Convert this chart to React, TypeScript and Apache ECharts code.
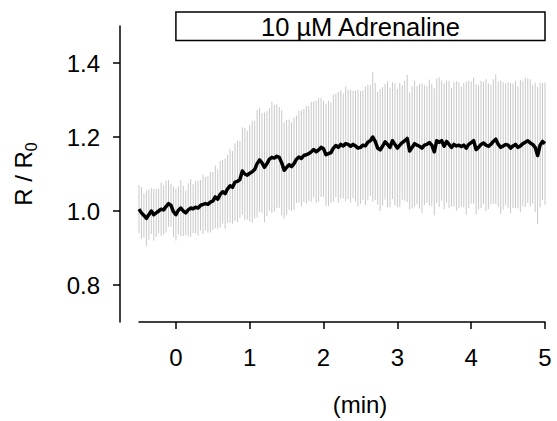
import React, { useEffect, useRef } from "react";
import * as echarts from "echarts";

// sampling: one frame every 2 s, starting 0.5 min before adrenaline
const startMin = -0.5;
const stepMin = 2 / 60;

// mean R / R0 per frame
const meanRatio = [
  1.005, 0.995, 0.988, 0.98, 0.99, 1.0, 0.99, 0.995, 1.0, 1.005,
  1.003, 1.012, 1.02, 1.015, 0.998, 0.99, 1.002, 1.008, 1.0, 0.995,
  1.003, 1.008, 1.006, 1.01, 1.008, 1.015, 1.018, 1.02, 1.018, 1.024,
  1.027, 1.038, 1.032, 1.045, 1.052, 1.047, 1.06, 1.068, 1.064, 1.078,
  1.08, 1.085, 1.108, 1.1, 1.097, 1.102, 1.106, 1.112, 1.128, 1.138,
  1.13, 1.118, 1.128, 1.14, 1.145, 1.143, 1.148, 1.145, 1.13, 1.11,
  1.118, 1.125, 1.12, 1.128, 1.14, 1.146, 1.142, 1.15, 1.152, 1.155,
  1.16, 1.166, 1.16, 1.165, 1.172, 1.168, 1.152, 1.155, 1.158, 1.17,
  1.177, 1.172, 1.18, 1.176, 1.182, 1.18, 1.175, 1.18, 1.176, 1.17,
  1.172, 1.178, 1.176, 1.186, 1.19, 1.2, 1.188, 1.17, 1.165, 1.175,
  1.187, 1.18, 1.172, 1.19, 1.18, 1.17, 1.178, 1.185, 1.19, 1.196,
  1.162, 1.172, 1.182, 1.178, 1.175, 1.17, 1.178, 1.18, 1.185, 1.178,
  1.16, 1.19, 1.186, 1.19, 1.175, 1.188, 1.18, 1.172, 1.18, 1.176,
  1.178, 1.174, 1.178, 1.17, 1.18, 1.185, 1.19, 1.166, 1.172, 1.18,
  1.184, 1.178, 1.175, 1.18, 1.188, 1.194, 1.18, 1.172, 1.176, 1.18,
  1.178, 1.17, 1.176, 1.18, 1.172, 1.176, 1.182, 1.186, 1.19, 1.184,
  1.18, 1.172, 1.15, 1.178, 1.188, 1.182,
];

// standard deviation per frame (error bar half-length)
const sdRatio = [
  0.065, 0.07, 0.06, 0.075, 0.068, 0.062, 0.07, 0.065, 0.06, 0.072, 0.066, 0.07, 0.063, 0.058, 0.068,
  0.07, 0.064, 0.075, 0.068, 0.06, 0.072, 0.078, 0.066, 0.07, 0.074, 0.068, 0.08, 0.072, 0.076, 0.082,
  0.078, 0.085, 0.08, 0.09, 0.086, 0.095, 0.092, 0.1, 0.098, 0.105, 0.11, 0.104, 0.118, 0.125, 0.12,
  0.13, 0.138, 0.132, 0.145, 0.14, 0.135, 0.148, 0.142, 0.138, 0.15, 0.144, 0.14, 0.136, 0.142, 0.13,
  0.128, 0.122, 0.12, 0.125, 0.118, 0.124, 0.13, 0.126, 0.132, 0.128, 0.135, 0.13, 0.138, 0.14, 0.134,
  0.13, 0.138, 0.142, 0.136, 0.145, 0.14, 0.15, 0.146, 0.142, 0.155, 0.148, 0.152, 0.145, 0.15, 0.158,
  0.152, 0.148, 0.16, 0.155, 0.15, 0.175, 0.158, 0.152, 0.165, 0.16, 0.156, 0.17, 0.162, 0.158, 0.165,
  0.16, 0.168, 0.155, 0.162, 0.172, 0.158, 0.165, 0.17, 0.16, 0.168, 0.175, 0.162, 0.158, 0.17, 0.165,
  0.172, 0.168, 0.175, 0.162, 0.17, 0.165, 0.172, 0.16, 0.168, 0.175, 0.17, 0.162, 0.168, 0.18, 0.172,
  0.165, 0.17, 0.176, 0.168, 0.172, 0.165, 0.178, 0.17, 0.162, 0.168, 0.175, 0.17, 0.18, 0.172, 0.165,
  0.17, 0.176, 0.168, 0.172, 0.165, 0.178, 0.17, 0.175, 0.168, 0.172, 0.16, 0.175, 0.185, 0.168, 0.158, 0.165,
];

const xTicks = [0, 1, 2, 3, 4, 5];
const yTicks = [0.8, 1.0, 1.2, 1.4];
const xRange = [-0.5, 5];
const yRange = [0.7, 1.5];
const stimulusLabel = "10 µM Adrenaline";
const stimulusStart = 0;
const stimulusEnd = 5;
const xTitle = "(min)";

const FONT = "Liberation Sans, Arial, Helvetica, sans-serif";

export default function App() {
  const ref = useRef<HTMLDivElement>(null);
  useEffect(() => {
    const chart = echarts.init(ref.current!, null, { renderer: "svg" });
    const times = meanRatio.map((_, i) => startMin + i * stepMin);
    const lineData = meanRatio.map((m, i) => [times[i], m]);
    const barData = meanRatio.map((m, i) => [times[i], m - sdRatio[i], m + sdRatio[i]]);

    chart.setOption({
      animation: false,
      grid: { left: 139, right: 12, top: 26, bottom: 99, containLabel: false },
      xAxis: {
        type: "value",
        min: xRange[0],
        max: xRange[1],
        splitLine: { show: false },
        axisLine: { show: true, onZero: false, lineStyle: { color: "#000", width: 1.5 } },
        axisTick: { show: true, length: 7, customValues: xTicks, lineStyle: { color: "#000", width: 1.5 } },
        axisLabel: {
          customValues: xTicks,
          fontSize: 24,
          fontFamily: FONT,
          color: "#000",
          margin: 23,
          formatter: (v: number) => String(Math.round(v)),
        },
      },
      yAxis: {
        type: "value",
        min: yRange[0],
        max: yRange[1],
        offset: 19,
        splitLine: { show: false },
        axisLine: { show: true, onZero: false, lineStyle: { color: "#000", width: 1.5 } },
        axisTick: { show: true, length: 7, customValues: yTicks, lineStyle: { color: "#000", width: 1.5 } },
        axisLabel: {
          customValues: yTicks,
          fontSize: 24,
          fontFamily: FONT,
          color: "#000",
          margin: 20,
          formatter: (v: number) => v.toFixed(1),
        },
        name: "{m|R / R}{s|0}",
        nameLocation: "middle",
        nameRotate: 90,
        nameGap: 81,
        nameTextStyle: {
          rich: {
            m: { fontSize: 24, fontFamily: FONT, color: "#000", lineHeight: 24, padding: [0, 0, 4, 0], verticalAlign: "bottom" },
            s: { fontSize: 16, fontFamily: FONT, color: "#000", lineHeight: 16, verticalAlign: "bottom" },
          },
        },
      },
      graphic: [
        {
          type: "text",
          x: 360,
          y: 404,
          style: {
            text: xTitle,
            fontSize: 24,
            fontFamily: FONT,
            fill: "#000",
            align: "center",
            verticalAlign: "middle",
          },
        },
      ],
      series: [
        {
          type: "custom",
          name: "sd",
          data: barData,
          encode: { x: 0, y: [1, 2] },
          z: 1,
          renderItem: (_p: any, api: any) => {
            const x = api.value(0);
            const a = api.coord([x, api.value(1)]);
            const b = api.coord([x, api.value(2)]);
            return {
              type: "line",
              shape: { x1: a[0], y1: a[1], x2: b[0], y2: b[1] },
              style: { stroke: "#c8c8c8", lineWidth: 1 },
            };
          },
        },
        {
          type: "line",
          name: "mean",
          data: lineData,
          symbol: "none",
          z: 3,
          lineStyle: { color: "#000", width: 3.5, join: "round" },
        },
        {
          type: "custom",
          name: "stimulus",
          data: [[stimulusStart, stimulusEnd, yRange[1]]],
          encode: { x: [0, 1], y: 2 },
          z: 5,
          renderItem: (_p: any, api: any) => {
            const a = api.coord([api.value(0), api.value(2)]);
            const b = api.coord([api.value(1), api.value(2)]);
            const top = a[1] - 14;
            const h = 28.5;
            return {
              type: "group",
              children: [
                {
                  type: "rect",
                  shape: { x: a[0], y: top, width: b[0] - a[0], height: h },
                  style: { fill: "#fff", stroke: "#000", lineWidth: 1.5 },
                },
                {
                  type: "text",
                  style: {
                    text: stimulusLabel,
                    x: (a[0] + b[0]) / 2,
                    y: top + h / 2 + 1,
                    align: "center",
                    verticalAlign: "middle",
                    fontSize: 25.5,
                    fontFamily: FONT,
                    fill: "#000",
                  },
                },
              ],
            };
          },
        },
      ],
    });
    return () => chart.dispose();
  }, []);
  return (
    <div
      ref={ref}
      style={{ position: "fixed", left: 0, top: 0, width: 557, height: 421, background: "#fff" }}
    />
  );
}
